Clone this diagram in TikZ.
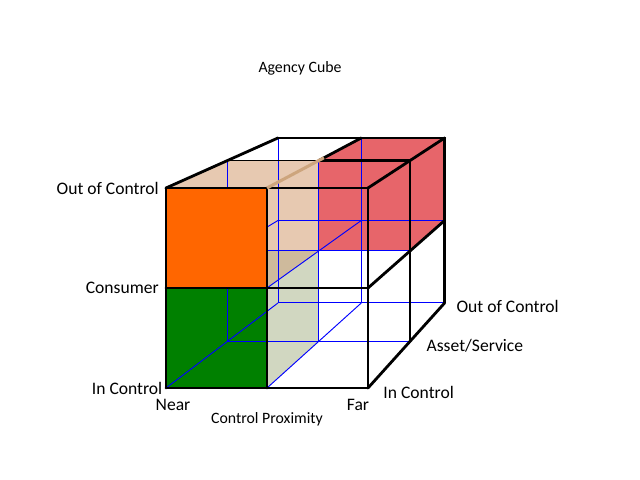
\documentclass[tikz,border=0pt]{standalone}
\usepackage{fontspec}
\setmainfont{Carlito}
\usepackage{tikz}
\usetikzlibrary{calc,positioning}
\definecolor{cubeorange}{RGB}{255,102,0}
\definecolor{cubegreen}{RGB}{0,128,0}
\definecolor{cubered}{RGB}{231,101,106}
\definecolor{cubetan}{RGB}{231,201,177}
\definecolor{cubesage}{RGB}{209,215,193}
\definecolor{cubedark}{RGB}{206,186,156}
\definecolor{tanedge}{RGB}{205,165,125}
\definecolor{gridblue}{RGB}{0,0,255}

\begin{document}
\begin{tikzpicture}[x=0.03cm, y=-0.03cm,
    edge/.style={line width=2.4pt, line cap=round, line join=round},
    hidden/.style={gridblue, line width=0.8pt},
    lbl/.style={inner sep=1pt, font=\fontsize{15}{18}\selectfont},
    axis/.style={inner sep=1pt, font=\fontsize{13.5}{16}\selectfont}]
    \useasboundingbox (0,0) rectangle (640,480);

    % vanishing point and the lattice of the 2x2x2 cube
    \coordinate (vp) at (806,-98);
    \foreach \i/\x in {0/166,1/267,2/368}
      \foreach \j/\y in {0/388,1/288,2/188}
        \foreach \k/\s in {0/1,1/0.904,2/0.825}
          \coordinate (p\i\j\k) at ($(vp)!\s!(\x,\y)$);

    % coloured faces
    \fill[cubered] (p111) -- (p211) -- (p221) -- (p121) -- cycle;
    \fill[cubered] (p121) -- (p221) -- (p222) -- (p122) -- cycle;
    \fill[cubered] (p211) -- (p212) -- (p222) -- (p221) -- cycle;
    \fill[cubetan] (p020) -- (p120) -- (p121) -- (p021) -- cycle;
    \fill[cubetan] (p110) -- (p111) -- (p121) -- (p120) -- cycle;
    \fill[cubesage] (p100) -- (p101) -- (p111) -- (p110) -- cycle;
    \fill[cubedark] (p010) -- (p110) -- (p111) -- (p011) -- cycle;
    \fill[cubegreen] (p000) -- (p100) -- (p110) -- (p010) -- cycle;

    % hidden grid lines
    \foreach \a in {0,1,2}
      \foreach \b in {0,1,2} {
        \draw[hidden] (p0\a\b) -- (p2\a\b);
        \draw[hidden] (p\a0\b) -- (p\a2\b);
        \draw[hidden] (p\a\b0) -- (p\a\b2);
      }

    \fill[cubeorange] (p010) -- (p110) -- (p120) -- (p020) -- cycle;

    % front face
    \foreach \a in {0,1,2} {
      \draw[edge] (p0\a0) -- (p2\a0);
      \draw[edge] (p\a00) -- (p\a20);
    }
    % top face
    \draw[line width=1pt] (p021) -- (p121);
    \draw[edge] (p121) -- (p221);
    \draw[edge] (p022) -- (p222);
    \draw[edge] (p020) -- (p022);
    \draw[edge] (p121) -- (p122);
    \draw[edge] (p220) -- (p222);
    \draw[tanedge, line width=2.6pt, shorten >=-5pt] (p120) -- (p121);
    % right face
    \draw[edge] (p201) -- (p221);
    \draw[edge] (p202) -- (p222);
    \draw[edge] (p200) -- (p202);
    \draw[edge] (p210) -- (p212);

    % labels
    \node[axis] (title) at (300,68) {Agency Cube};
    \node[lbl, left=5pt of p020] (outtop) {Out of Control};
    \node[lbl, left=5pt of p010] (consumer) {Consumer};
    \node[lbl, left=2pt of p000] (inleft) {In Control};
    \node[lbl, below=8pt of p000, xshift=6pt] (near) {Near};
    \node[lbl, below=8pt of p200, xshift=-8.5pt] (far) {Far};
    \node[axis, below=20pt of p100] (proximity) {Control Proximity};
    \node[lbl, right=12pt of p200, yshift=-4pt] (inright) {In Control};
    \node[lbl, right=13pt of p201, yshift=-4pt] (asset) {Asset/Service};
    \node[lbl, right=9pt of p202, yshift=-3pt] (outright) {Out of Control};
\end{tikzpicture}
\end{document}
